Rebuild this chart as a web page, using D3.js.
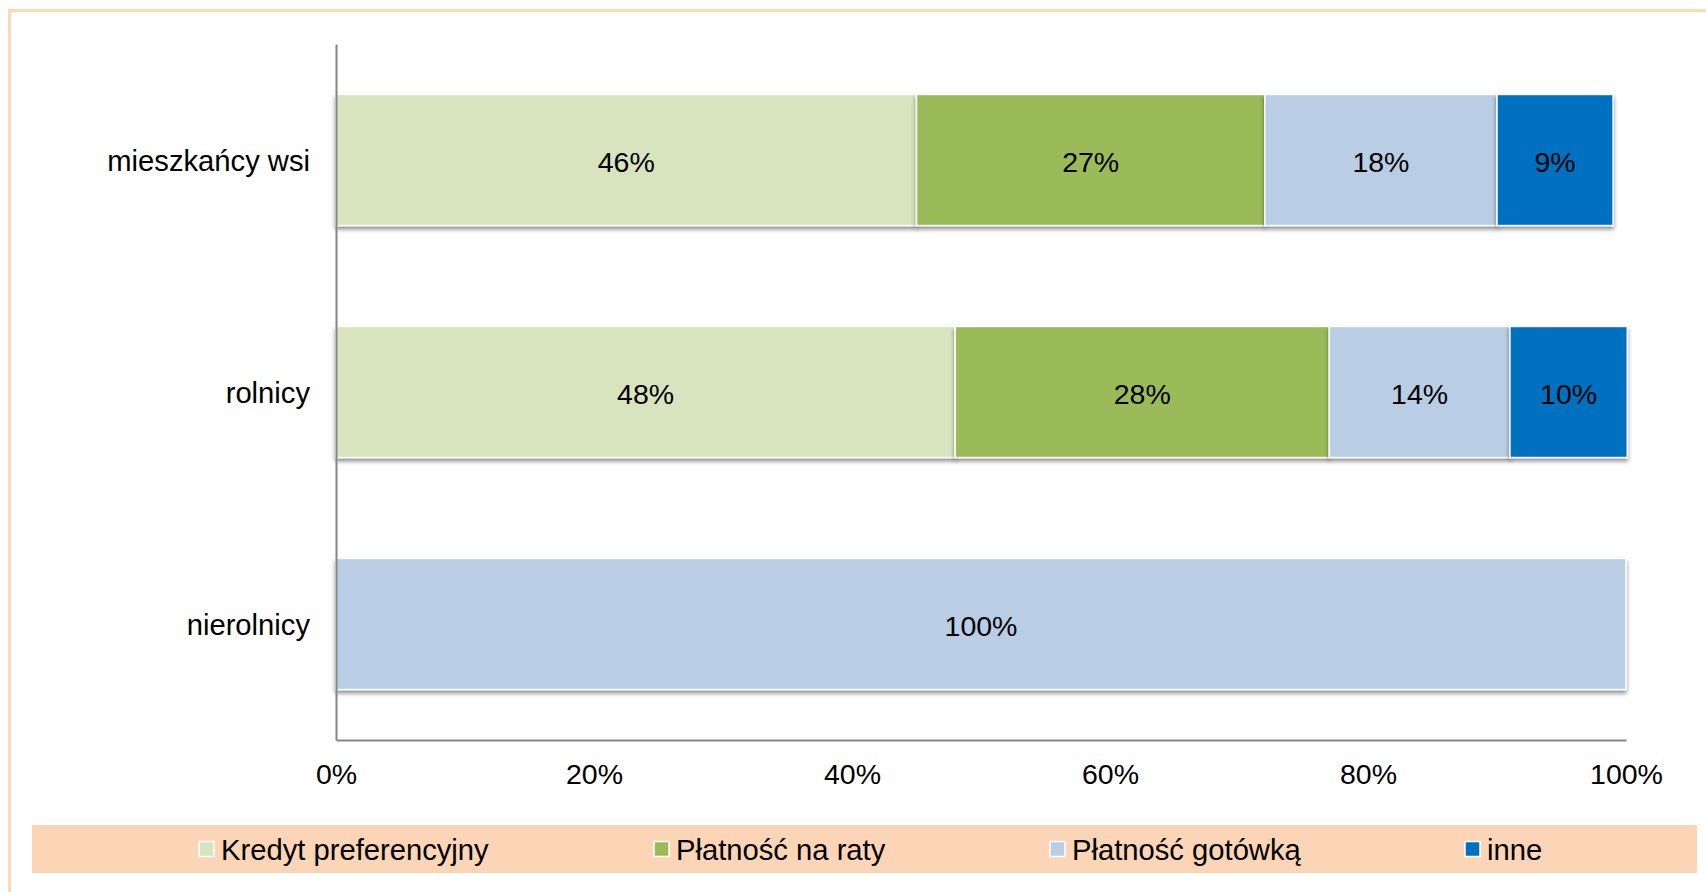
<!DOCTYPE html>
<html>
<head>
<meta charset="utf-8">
<script src="https://cdn.jsdelivr.net/npm/d3@7"></script>
<style>
  html, body { margin: 0; padding: 0; background: #ffffff; overflow: hidden; }
  svg { display: block; }
  text { font-family: "Liberation Sans", Arial, sans-serif; fill: #000; }
</style>
</head>
<body>
<svg id="chart" width="1706" height="892"></svg>
<script>
// ---- data ----
const categories = ["mieszkańcy wsi", "rolnicy", "nierolnicy"];
const seriesNames = ["Kredyt preferencyjny", "Płatność na raty", "Płatność gotówką", "inne"];
const seriesColors = ["#D7E4BD", "#9BBB59", "#B9CDE5", "#0070C0"];
// segment values (%)
const kredytValues  = [45, 48, 0];
const rataValues    = [27, 29, 0];
const gotowkaValues = [18, 14, 100];
const inneValues    = [9, 9.1, 0];
// data labels as printed on the chart
const kredytLabels  = ["46%", "48%", ""];
const rataLabels    = ["27%", "28%", ""];
const gotowkaLabels = ["18%", "14%", "100%"];
const inneLabels    = ["9%", "10%", ""];
const xTicks = [0, 20, 40, 60, 80, 100];

const seriesValues = [kredytValues, rataValues, gotowkaValues, inneValues];
const seriesLabels = [kredytLabels, rataLabels, gotowkaLabels, inneLabels];

const svg = d3.select("#chart");

// outer frame
svg.append("rect")
  .attr("x", 9.5).attr("y", 10.5).attr("width", 1720).attr("height", 900)
  .attr("fill", "none").attr("stroke", "#FDD8B6").attr("stroke-width", 3);

// shadow filter
const defs = svg.append("defs");
const f = defs.append("filter").attr("id", "shadow")
  .attr("x", "-5%").attr("y", "-10%").attr("width", "110%").attr("height", "130%");
f.append("feDropShadow").attr("dx", 0).attr("dy", 3).attr("stdDeviation", 2)
  .attr("flood-color", "#000").attr("flood-opacity", 0.45);

const x = d3.scaleLinear().domain([0, 100]).range([336, 1626]);
const y = d3.scaleBand().domain(categories).range([44, 740])
  .paddingInner(0.435).paddingOuter(0.2175);

// build stacked rows
const rows = categories.map((c, i) => {
  const obj = { category: c };
  seriesNames.forEach((s, j) => obj[s] = seriesValues[j][i]);
  return obj;
});
const stacked = d3.stack().keys(seriesNames)(rows);

const barsG = svg.append("g");
stacked.forEach((layer, j) => {
  barsG.append("g")
    .attr("filter", "url(#shadow)")
    .selectAll("rect")
    .data(layer.filter(d => d[1] - d[0] > 0))
    .join("rect")
    .attr("x", d => x(d[0]))
    .attr("y", d => y(d.data.category))
    .attr("width", d => x(d[1]) - x(d[0]))
    .attr("height", y.bandwidth())
    .attr("fill", seriesColors[j])
    .attr("stroke", "#ffffff")
    .attr("stroke-width", 1.5);
});

// data labels
stacked.forEach((layer, j) => {
  svg.append("g").selectAll("text")
    .data(layer.map((d, i) => ({ d, label: seriesLabels[j][i] })).filter(o => o.label))
    .join("text")
    .attr("x", o => (x(o.d[0]) + x(o.d[1])) / 2)
    .attr("y", o => y(o.d.data.category) + y.bandwidth() / 2 + 2)
    .attr("text-anchor", "middle")
    .attr("dominant-baseline", "central")
    .attr("font-size", 28.5)
    .text(o => o.label);
});

// axes
const axisColor = "#868686";
const xAxis = d3.axisBottom(x).tickValues(xTicks).tickSize(0).tickPadding(24)
  .tickFormat(d => d + "%");
const gx = svg.append("g").attr("transform", "translate(0,740)").call(xAxis);
gx.select(".domain").attr("stroke", axisColor).attr("stroke-width", 2);
gx.selectAll("text").attr("font-size", 28.5)
  .attr("font-family", "'Liberation Sans', Arial, sans-serif").attr("fill", "#000");

const yAxis = d3.axisLeft(y).tickSize(0).tickPadding(26);
const gy = svg.append("g").attr("transform", "translate(336,0)").call(yAxis);
gy.select(".domain").attr("stroke", axisColor).attr("stroke-width", 2);
gy.selectAll("text").attr("font-size", 29.2).attr("dy", "0.38em")
  .attr("font-family", "'Liberation Sans', Arial, sans-serif").attr("fill", "#000");

// legend
svg.append("rect").attr("x", 32).attr("y", 825).attr("width", 1665).attr("height", 48)
  .attr("fill", "#FBD5B5");
const legendX = [199, 654, 1050, 1465];
const lg = svg.append("g").selectAll("g").data(seriesNames).join("g")
  .attr("transform", (d, i) => `translate(${legendX[i]},849)`);
lg.append("rect").attr("x", 0).attr("y", -7.5).attr("width", 15).attr("height", 15)
  .attr("fill", (d, i) => seriesColors[i]).attr("stroke", "#ffffff").attr("stroke-width", 1.5);
lg.append("text").attr("x", 22).attr("y", 1)
  .attr("dominant-baseline", "central").attr("font-size", 29.2).text(d => d);
</script>
</body>
</html>
